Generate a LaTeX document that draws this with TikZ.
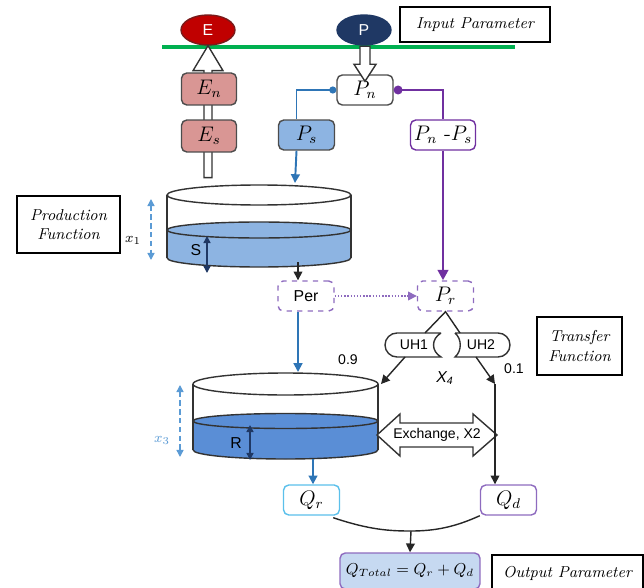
\documentclass[tikz,border=0pt]{standalone}
\usepackage{amsmath}
\usepackage{fontspec}
\setsansfont{Liberation Sans}
\usetikzlibrary{positioning,arrows.meta,shapes.geometric,calc}
\definecolor{eRed}{HTML}{C00000}
\definecolor{eRedDark}{HTML}{7A1A1A}
\definecolor{eRose}{HTML}{D99694}
\definecolor{pNavy}{HTML}{1F3864}
\definecolor{pBlue}{HTML}{8DB4E2}
\definecolor{rBlue}{HTML}{5A8ED6}
\definecolor{lineBlue}{HTML}{2E75B6}
\definecolor{lineGreen}{HTML}{00B050}
\definecolor{dimBlue}{HTML}{5B9BD5}
\definecolor{purp}{HTML}{7030A0}
\definecolor{qPurp}{HTML}{8E6BBF}
\definecolor{qCyan}{HTML}{5BC0EB}
\definecolor{qFill}{HTML}{C6D9F1}

\begin{document}
\begin{tikzpicture}[
    x=0.02cm, y=-0.02cm,
    param/.style={ellipse, minimum width=1.08cm, minimum height=0.6cm,
        inner sep=0pt, text=white, font=\sffamily\small, line width=0.8pt},
    evapbox/.style={rectangle, draw=black!70, fill=eRose, rounded corners=3pt,
        minimum width=1.1cm, minimum height=0.64cm, inner sep=0pt, thick, font=\large},
    fluxbox/.style={rectangle, draw=black!70, fill=white, rounded corners=3pt,
        minimum width=1.12cm, minimum height=0.6cm, inner sep=0pt, thick, font=\large},
    dashbox/.style={rectangle, draw=qPurp, dashed, thick, rounded corners=3pt,
        minimum width=1.12cm, minimum height=0.6cm, inner sep=0pt},
    tagbox/.style={rectangle, draw=black, thick, align=center,
        font=\small\itshape, inner sep=0pt},
    arrow/.style={-{Triangle[length=5pt,width=5pt]}, thick, draw=black!85},
    blueflow/.style={-{Triangle[length=5pt,width=5pt]}, line width=1.1pt, draw=lineBlue},
    purpflow/.style={-{Triangle[length=6pt,width=6pt]}, line width=1.6pt, draw=purp},
    hollow/.style={draw=black!80, fill=white, thick, line join=miter},
    store/.style={draw=black!80, thick},
    dim/.style={{Triangle[length=4pt,width=4pt]}-{Triangle[length=4pt,width=4pt]},
        densely dashed, thick, draw=dimBlue},
    level/.style={{Triangle[length=4pt,width=4pt]}-{Triangle[length=4pt,width=4pt]},
        thick, draw=pNavy},
    flowlabel/.style={font=\sffamily\footnotesize}
]
\clip (0,0) rectangle (644,587);

% Input parameters
\draw[lineGreen, line width=2pt] (162,47) -- (515,47);
\node[param, fill=eRed, draw=eRedDark] (E) at (208,30) {E};
\node[param, fill=pNavy, draw=pNavy] (P) at (364,30) {P};
\node[tagbox, minimum width=3cm, minimum height=0.7cm] (input) at (475,24.5) {Input Parameter};

% Evaporation branch
\draw[hollow] (E.south) -- ++(15,25) -- ++(-11,0) -- ++(0,107) -- ++(-8,0)
    -- ++(0,-107) -- ++(-11,0) -- cycle;
\node[evapbox] (En) at (209,89) {$E_n$};
\node[evapbox] (Es) at (209,136) {$E_s$};

% Precipitation branch
\node[fluxbox] (Pn) at (365,90) {$P_n$};
\draw[hollow] ($(Pn.north)+(0,7)$) -- ++(11,-17) -- ++(-6,0) -- ++(0,-18) -- ++(-10,0)
    -- ++(0,18) -- ++(-6,0) -- cycle;
\node[fluxbox, fill=pBlue] (Ps) at (306.5,135) {$P_s$};
\node[fluxbox, draw=purp, minimum width=1.3cm] (PnPs) at (443,135) {$P_n$ -$P_s$};

% Production store
\coordinate (prodIn) at (295,183);
\coordinate (prodOut) at (298,262);
\fill[pBlue] (167,230) -- (167,258) arc[start angle=180, end angle=360,
    x radius=1.84cm, y radius=0.18cm] -- (351,230) -- cycle;
\draw[store] (167,258) arc[start angle=180, end angle=360, x radius=1.84cm, y radius=0.18cm];
\draw[store, fill=pBlue] (259,230) ellipse[x radius=1.84cm, y radius=0.16cm];
\draw[store] (167,195) -- (167,258) (351,195) -- (351,258);
\draw[store, fill=white] (259,195) ellipse[x radius=1.84cm, y radius=0.2cm];
\draw[level] (207,236) -- (207,273);
\node[font=\sffamily\small] (S) at (196,250) {S};
\draw[dim] (151,199) -- (151,260);
\node (x1) at (133,240) {\footnotesize$x_1$};
\node[tagbox, minimum width=2.06cm, minimum height=1.14cm] (prodfn) at (68.5,224.5)
    {Production\\Function};

% Percolation and routing
\node[dashbox, font=\sffamily\small] (Per) at (306,296) {Per};
\node[dashbox, font=\large] (Pr) at (445.5,296) {$P_r$};

% Unit hydrographs
\draw[store, fill=white] (441,333) -- (397,333) arc[start angle=90, end angle=270, radius=0.24cm]
    -- (441,357) .. controls (431,351) and (431,339) .. (441,333);
\draw[store, fill=white] (455,333) -- (498,333) arc[start angle=90, end angle=-90, radius=0.24cm]
    -- (455,357) .. controls (462,351) and (462,339) .. (455,333);
\node[flowlabel] (uh1) at (414,345) {UH1};
\node[flowlabel] (uh2) at (481,345) {UH2};
\coordinate (uh1in) at (425,333);
\coordinate (uh2in) at (460,333);
\coordinate (uh1out) at (405,357);
\coordinate (uh2out) at (476,357);
\node[tagbox, minimum width=1.7cm, minimum height=1.16cm] (transfn) at (579.5,346)
    {Transfer\\Function};

% Routing store
\coordinate (routIn) at (298,372);
\coordinate (routEdge) at (381,384);
\coordinate (routOut) at (313,459);
\coordinate (knee) at (495,384);
\fill[rBlue] (193,421) -- (193,450) arc[start angle=180, end angle=360,
    x radius=1.85cm, y radius=0.18cm] -- (378,421) -- cycle;
\draw[store] (193,450) arc[start angle=180, end angle=360, x radius=1.85cm, y radius=0.18cm];
\draw[store, fill=rBlue] (285.5,421) ellipse[x radius=1.85cm, y radius=0.15cm];
\draw[store] (193,384) -- (193,450) (378,384) -- (378,450);
\draw[store, fill=white] (285.5,384) ellipse[x radius=1.85cm, y radius=0.22cm];
\draw[level] (250,425) -- (250,460);
\node[font=\sffamily\small] (R) at (236,443) {R};
\draw[dim] (180,385) -- (180,457);
\node[text=dimBlue] (x3) at (162,440) {\footnotesize$x_3$};

% Groundwater exchange
\draw[hollow] (377,435) -- (400,414) -- (400,423) -- (473,423) -- (473,414) -- (497,435)
    -- (473,456) -- (473,447) -- (400,447) -- (400,456) -- cycle;
\node[flowlabel] (exch) at (437,435) {Exchange, X2};
\node[flowlabel] (split9) at (348,360) {0.9};
\node[flowlabel] (split1) at (514,369) {0.1};
\node[font=\sffamily\itshape\small] (x4) at (445,378) {X\textsubscript{4}};

% Outputs
\node[fluxbox, draw=qCyan] (Qr) at (311.5,500) {$Q_r$};
\node[fluxbox, draw=qPurp] (Qd) at (508.5,500) {$Q_d$};
\node[fluxbox, draw=qPurp, fill=qFill, minimum width=2.8cm, minimum height=0.72cm,
    font=\small] (Qtot) at (410,571) {$Q_{Total} = Q_r + Q_d$};
\node[tagbox, minimum width=3.02cm, minimum height=0.72cm] (output) at (567.5,573)
    {Output Parameter};
\coordinate (merge) at (411,531);

% Arrows
\draw[blueflow, {Circle[length=4pt]}-] (Pn.west) -| ([xshift=-0.2cm]Ps.north);
\draw[blueflow] ([xshift=-0.2cm]Ps.south) -- (prodIn);
\draw[purpflow, {Circle[length=5pt]}-] (Pn.east) -| (PnPs.north);
\draw[purpflow] (PnPs.south) -- (PnPs.south |- Pr.north);
\draw[arrow] (prodOut) -- (Per.north -| prodOut);
\draw[-{Triangle[length=5pt,width=5pt]}, densely dotted, thick, draw=qPurp] (Per.east) -- (Pr.west);
\draw[blueflow] (Per.south -| routIn) -- (routIn);
\draw[thick, draw=black!85] (uh1in) -- (Pr.south) -- (uh2in);
\draw[arrow] (uh1out) -- (routEdge);
\draw[arrow] (uh2out) -- (knee);
\draw[arrow] (knee) -- (knee |- Qd.north);
\draw[blueflow] (routOut) -- (routOut |- Qr.north);
\draw[thick, draw=black!85] ($(Qr.south east)+(-7,2)$) .. controls (370,530) and (390,531) .. (merge)
    .. controls (435,531) and (455,527) .. (Qd.south west);
\draw[arrow] (merge) -- (Qtot.north);

\end{tikzpicture}
\end{document}
